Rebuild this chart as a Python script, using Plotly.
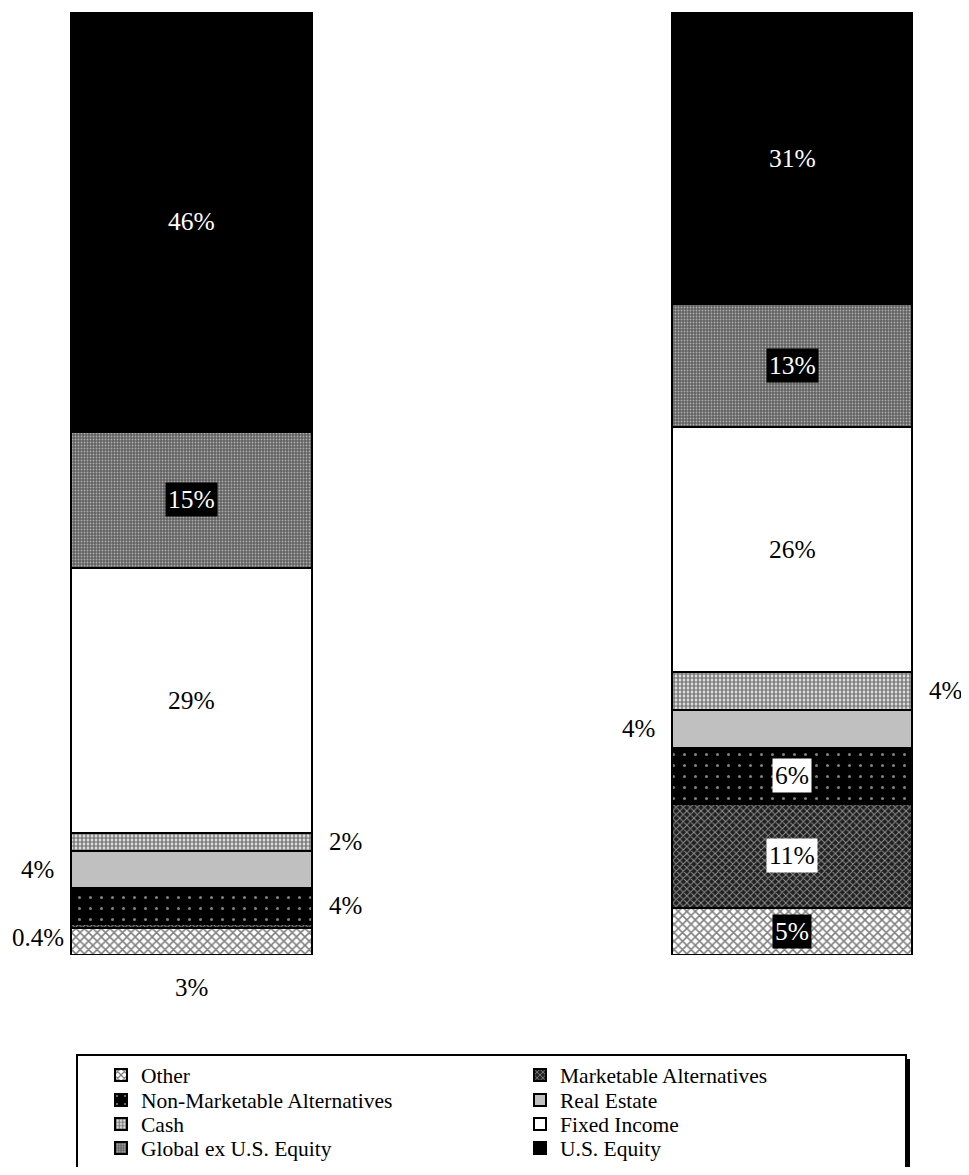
import plotly.graph_objects as go

bars = ["Portfolio 1", "Portfolio 2"]
series = ["Other", "Marketable Alternatives", "Non-Marketable Alternatives",
          "Real Estate", "Cash", "Fixed Income", "Global ex U.S. Equity", "U.S. Equity"]
other = [3, 5]
marketable_alts = [0.4, 11]
non_marketable_alts = [4, 6]
real_estate = [4, 4]
cash = [2, 4]
fixed_income = [29, 26]
global_ex_us = [15, 13]
us_equity = [46, 31]
values = [other, marketable_alts, non_marketable_alts, real_estate, cash,
          fixed_income, global_ex_us, us_equity]

# label placement per series per bar: "in", "left", "right", "below"
placement = [["below", "in"], ["left", "in"], ["right", "in"], ["left", "left"],
             ["right", "right"], ["in", "in"], ["in", "in"], ["in", "in"]]

styles = [
    dict(color="white", pattern=dict(shape="x", fgcolor="black", bgcolor="white", size=6, solidity=0.45)),
    dict(color="black", pattern=dict(shape="x", fgcolor="white", bgcolor="#202020", size=5, solidity=0.35)),
    dict(color="black", pattern=dict(shape=".", fgcolor="white", bgcolor="black", size=11, solidity=0.06)),
    dict(color="#c0c0c0"),
    dict(color="white", pattern=dict(shape=".", fgcolor="black", bgcolor="white", size=4, solidity=0.7)),
    dict(color="white"),
    dict(color="#777777", pattern=dict(shape=".", fgcolor="white", bgcolor="#606060", size=3, solidity=0.3)),
    dict(color="black"),
]
label_style = [  # (font color, bg color)
    ("black", None), ("black", None), ("black", "white"), ("black", None),
    ("black", None), ("black", None), ("white", "black"), ("white", None),
]
label_style_right = {0: ("white", "black"), 1: ("black", "white")}
legend_rows = ["legend", "legend", "legend2", "legend2", "legend3", "legend3", "legend4", "legend4"]

FONT = "Liberation Serif, Times New Roman, serif"

# page body has an 8px margin; keep the figure inside the 969x1175 window
OFF = 8
W, H = 969 - 2 * OFF, 1175 - 2 * OFF
top, bottom = 12 - OFF, 955 - OFF
ph = bottom - top

def py(p):  # screen y pixel -> paper fraction
    return (bottom - (p - OFF)) / ph

def px(p):  # screen x pixel -> paper fraction
    return (p - OFF) / W

fig = go.Figure()
for name, vals, st, lg in zip(series, values, styles, legend_rows):
    marker = dict(color=st["color"], line=dict(color="black", width=2))
    if "pattern" in st:
        marker["pattern"] = st["pattern"]
    fig.add_trace(go.Bar(x=bars, y=vals, name=name, width=0.4, marker=marker,
                         legend=lg, hoverinfo="name+y"))

annotations = []
half = 0.2
for bi, b in enumerate(bars):
    total = sum(v[bi] for v in values)
    cum = 0
    for si, vals in enumerate(values):
        v = vals[bi]
        mid = (cum + v / 2) / total * 100
        cum += v
        txt = f"{v:g}%"
        pl = placement[si][bi]
        fc, bg = label_style[si]
        if si in (0, 1) and bi == 1:
            fc, bg = label_style_right[si]
        if pl == "in":
            annotations.append(dict(x=bi, y=mid, text=txt, showarrow=False,
                                    font=dict(family=FONT, size=25.5, color=fc),
                                    bgcolor=bg, borderpad=2))
        elif pl == "left":
            small = v < 1
            annotations.append(dict(x=bi - half, y=mid, text=txt, showarrow=False,
                                    xanchor="right", xshift=-5 if small else -15,
                                    yshift=-12 if small else 0,
                                    font=dict(family=FONT, size=25, color="black")))
        elif pl == "right":
            annotations.append(dict(x=bi + half, y=mid, text=txt, showarrow=False,
                                    xanchor="left", xshift=15,
                                    font=dict(family=FONT, size=25, color="black")))
        else:
            annotations.append(dict(x=bi, y=0, text=txt, showarrow=False,
                                    yanchor="middle", yshift=-32,
                                    font=dict(family=FONT, size=25, color="black")))

shapes = [
    dict(type="rect", xref="paper", yref="paper", x0=px(81), x1=px(910), y0=py(1059), y1=py(1176),
         fillcolor="black", line=dict(width=0), layer="above"),
    dict(type="rect", xref="paper", yref="paper", x0=px(77), x1=px(906), y0=py(1055), y1=py(1171),
         fillcolor="white", line=dict(color="black", width=2), layer="above"),
]

row_centers = [1075, 1100, 1124, 1148]
legend_common = dict(orientation="h", xanchor="left", yanchor="middle",
                     traceorder="normal", entrywidth=374, entrywidthmode="pixels",
                     font=dict(family=FONT, size=21.5, color="black"),
                     bgcolor="rgba(0,0,0,0)", borderwidth=0,
                     itemclick=False, itemdoubleclick=False)
legends = {}
for i, rc in enumerate(row_centers):
    key = "legend" if i == 0 else f"legend{i + 1}"
    legends[key] = dict(legend_common, x=px(101), y=py(rc))

xmin = -(191.5 - OFF) / 600.5
fig.update_layout(
    width=W, height=H,
    barmode="stack", barnorm="percent",
    paper_bgcolor="white", plot_bgcolor="white",
    margin=dict(l=0, r=0, t=top, b=H - bottom, pad=0, autoexpand=False),
    xaxis=dict(type="category", range=[xmin, xmin + W / 600.5],
               visible=False, fixedrange=True),
    yaxis=dict(range=[0, 100], visible=False, fixedrange=True),
    showlegend=True,
    annotations=annotations,
    shapes=shapes,
    font=dict(family=FONT),
    **legends,
)

fig.write_html("out.html")
